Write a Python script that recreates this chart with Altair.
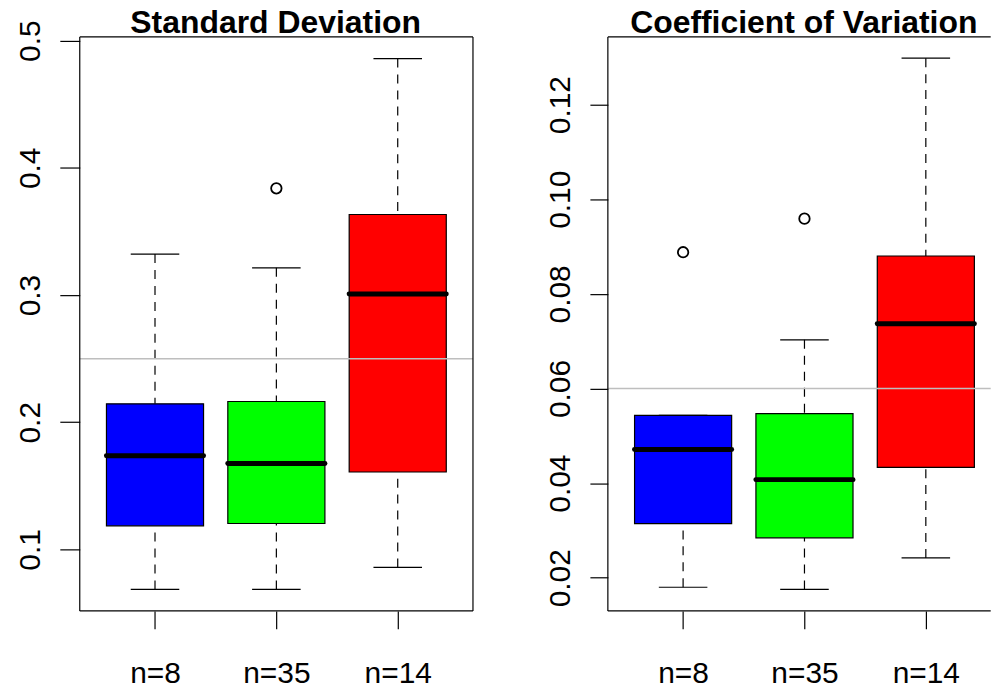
import json
import altair as alt
import pandas as pd

FONT = "Liberation Sans, Arial, Helvetica, sans-serif"

# ---------------- data ----------------
groups = ["n=8", "n=35", "n=14"]
box_colors = ["#0000FF", "#00FF00", "#FF0000"]

# Standard deviation panel
sd_lower = [0.0686, 0.0686, 0.0859]
sd_q1 = [0.1186, 0.1204, 0.1609]
sd_median = [0.1737, 0.1675, 0.3008]
sd_q3 = [0.2145, 0.2163, 0.3633]
sd_upper = [0.3322, 0.3214, 0.4859]
sd_out_groups = ["n=35"]
sd_out_values = [0.3839]
sd_ref = [0.25]
sd_ticks = [0.1, 0.2, 0.3, 0.4, 0.5]

# Coefficient of variation panel
cv_lower = [0.0180, 0.01753, 0.0242]
cv_q1 = [0.03146, 0.02844, 0.04333]
cv_median = [0.0471, 0.04074, 0.0737]
cv_q3 = [0.0543, 0.05467, 0.0880]
cv_upper = [0.0543, 0.07028, 0.1298]
cv_out_groups = ["n=8", "n=35"]
cv_out_values = [0.0888, 0.0959]
cv_ref = [0.06]
cv_ticks = [0.02, 0.04, 0.06, 0.08, 0.10, 0.12]

# ---------------- layout ----------------
H = 575.7
LEFT_W = 394.4
RIGHT_W = 384.0
UNIT = LEFT_W / 3.24
X_DOM_LEFT = [0.38, 3.62]
X_DOM_RIGHT = [0.38, 0.38 + RIGHT_W / UNIT]
LW = 1.2


def make_panel(title, lower, q1, med, q3, upper, out_groups, out_vals, ref,
               ticks, fmt, y_dom, width, x_dom, tick_len, right_border):
    pos = list(range(1, len(groups) + 1))
    df = pd.DataFrame({
        "group": groups, "pos": pos, "color": box_colors,
        "lower": lower, "q1": q1, "median": med, "q3": q3, "upper": upper,
    })
    df["left"] = df["pos"] - 0.4
    df["right"] = df["pos"] + 0.4
    df["cap_l"] = df["pos"] - 0.2
    df["cap_r"] = df["pos"] + 0.2

    out_df = pd.DataFrame({
        "pos": [groups.index(g) + 1 for g in out_groups],
        "value": out_vals,
    })
    ref_df = pd.DataFrame({"ref": ref})
    one = pd.DataFrame({"k": [0]})

    label_expr = json.dumps(groups) + "[datum.value - 1]"
    xaxis = alt.Axis(values=pos, labelExpr=label_expr, title=None, grid=False,
                     domain=False, tickSize=18, tickWidth=LW, tickColor="black",
                     labelFont=FONT, labelFontSize=30, labelColor="black",
                     labelAngle=0, labelAlign="center", labelBaseline="alphabetic",
                     labelPadding=54, labelFlush=False, labelOverlap=False)
    yaxis = alt.Axis(values=ticks, format=fmt, title=None, grid=False,
                     domain=False, tickSize=tick_len, tickWidth=LW, tickColor="black",
                     labelFont=FONT, labelFontSize=30, labelColor="black",
                     labelAngle=270, labelAlign="center", labelBaseline="alphabetic",
                     labelPadding=20, labelFlush=False, labelOverlap=False)
    xs = alt.Scale(domain=x_dom, nice=False, zero=False)
    ys = alt.Scale(domain=y_dom, nice=False, zero=False)

    def X(f):
        return alt.X(f, type="quantitative", scale=xs, axis=xaxis)

    def Y(f):
        return alt.Y(f, type="quantitative", scale=ys, axis=yaxis)

    base = alt.Chart(df)
    whisk_hi = base.mark_rule(color="black", strokeWidth=LW, strokeDash=[9, 7]).encode(
        x=X("pos"), y=Y("upper"), y2="q3")
    whisk_lo = base.mark_rule(color="black", strokeWidth=LW, strokeDash=[9, 7]).encode(
        x=X("pos"), y=Y("lower"), y2="q1")
    boxes = base.mark_rect(stroke="black", strokeWidth=LW).encode(
        x=X("left"), x2="right", y=Y("q1"), y2="q3",
        fill=alt.Fill("color:N", scale=None))
    medians = base.mark_rule(color="black", strokeWidth=5, strokeCap="round").encode(
        x=X("left"), x2="right", y=Y("median"))
    cap_hi = base.mark_rule(color="black", strokeWidth=LW).encode(
        x=X("cap_l"), x2="cap_r", y=Y("upper"))
    cap_lo = base.mark_rule(color="black", strokeWidth=LW).encode(
        x=X("cap_l"), x2="cap_r", y=Y("lower"))
    outliers = alt.Chart(out_df).mark_point(
        shape="circle", filled=False, size=110, color="black", strokeWidth=1.8,
        opacity=1).encode(x=X("pos"), y=Y("value"))
    refline = alt.Chart(ref_df).mark_rule(color="#bebebe", strokeWidth=1.5).encode(
        y=Y("ref"), x=alt.value(0), x2=alt.value(width))

    b = alt.Chart(one)
    borders = [
        b.mark_rule(color="black", strokeWidth=LW).encode(
            x=alt.value(0), x2=alt.value(width), y=alt.value(0)),
        b.mark_rule(color="black", strokeWidth=LW).encode(
            x=alt.value(0), x2=alt.value(width), y=alt.value(H)),
        b.mark_rule(color="black", strokeWidth=LW).encode(
            x=alt.value(0), y=alt.value(0), y2=alt.value(H)),
    ]
    if right_border:
        borders.append(b.mark_rule(color="black", strokeWidth=LW).encode(
            x=alt.value(width), y=alt.value(0), y2=alt.value(H)))

    title_mark = b.mark_text(text=title, font=FONT, fontSize=32, fontWeight="bold",
                             color="black", align="center", baseline="alphabetic").encode(
        x=alt.value(196.5), y=alt.value(-4))
    spacer = b.mark_rule(color="white", strokeOpacity=0, strokeWidth=1).encode(
        x=alt.value(-79.3), y=alt.value(-36), y2=alt.value(654))

    layers = [whisk_hi, whisk_lo, boxes, medians, cap_hi, cap_lo, outliers,
              refline] + borders + [title_mark, spacer]
    return alt.layer(*layers).properties(width=width, height=H)


left = make_panel("Standard Deviation", sd_lower, sd_q1, sd_median, sd_q3, sd_upper,
                  sd_out_groups, sd_out_values, sd_ref, sd_ticks, ".1f",
                  [0.0517, 0.5029], LEFT_W, X_DOM_LEFT, 20, True)
right = make_panel("Coefficient of Variation", cv_lower, cv_q1, cv_median, cv_q3, cv_upper,
                   cv_out_groups, cv_out_values, cv_ref, cv_ticks, ".2f",
                   [0.0130, 0.1343], RIGHT_W, X_DOM_RIGHT, 18, False)

chart = alt.hconcat(left, right, spacing=53.7).properties(
    padding=0, background="white"
).configure_view(stroke=None)

chart.save("out.html", embed_options={"renderer": "svg", "actions": False})
